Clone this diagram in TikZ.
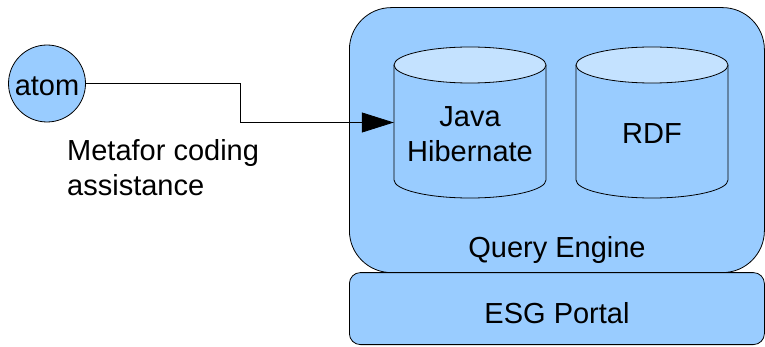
\documentclass[tikz,border=0pt]{standalone}
\usepackage{fontspec}
\setmainfont{Liberation Sans}
\usetikzlibrary{arrows.meta}
\definecolor{boxblue}{HTML}{99CCFF}
\definecolor{topblue}{HTML}{C4E2FF}
\begin{document}
\begin{tikzpicture}[x=1pt,y=1pt,
  lbl/.style={font=\fontsize{29}{35}\selectfont, inner sep=0pt, anchor=base},
  frame/.style={draw=black, line width=0.8pt, fill=boxblue},
  edge/.style={draw=black, line width=0.8pt}]
\useasboundingbox (0,0) rectangle (765,346);
% containers
\node[frame, rounded corners=42pt, minimum width=415pt, minimum height=265pt, inner sep=0pt, anchor=south west] (qe) at (349,73) {};
\node[frame, rounded corners=11pt, minimum width=415pt, minimum height=72pt, inner sep=0pt, anchor=south west] (esg) at (349,1) {};
% cylinders
\foreach \cx/\nm in {470/java,652/rdf}{
  \node[inner sep=0pt, minimum width=152pt, minimum height=151pt] (\nm) at (\cx,223.5) {};
  \fill[boxblue] (\cx-76,281) -- (\cx-76,166) arc[start angle=180,end angle=360,x radius=76,y radius=18] -- (\cx+76,281) -- cycle;
  \draw[edge] (\cx-76,281) -- (\cx-76,166) arc[start angle=180,end angle=360,x radius=76,y radius=18] -- (\cx+76,281);
  \draw[edge, fill=topblue] (\cx,281) ellipse[x radius=76,y radius=18];
}
% texts
\node[lbl] (javat) at (470,220) {Java};
\node[lbl] (hibt) at (470,185) {Hibernate};
\node[lbl] (rdft) at (652,203) {RDF};
\node[lbl] (qet) at (557,89) {Query Engine};
\node[lbl] (esgt) at (557,23) {ESG Portal};
% atom
\node[frame, circle, minimum size=77pt, inner sep=0pt] (atom) at (47,262.5) {};
\node[lbl] (atomt) at (47,251) {atom};
\node[lbl, anchor=base west] (meta1) at (67,186) {Metafor coding};
\node[lbl, anchor=base west] (meta2) at (67,151) {assistance};
% connector
\coordinate (bend) at (240,262.5);
\draw[edge, -{Triangle[length=32pt,width=20pt]}] (atom.east) -- (bend) |- (java.west);
\end{tikzpicture}
\end{document}
